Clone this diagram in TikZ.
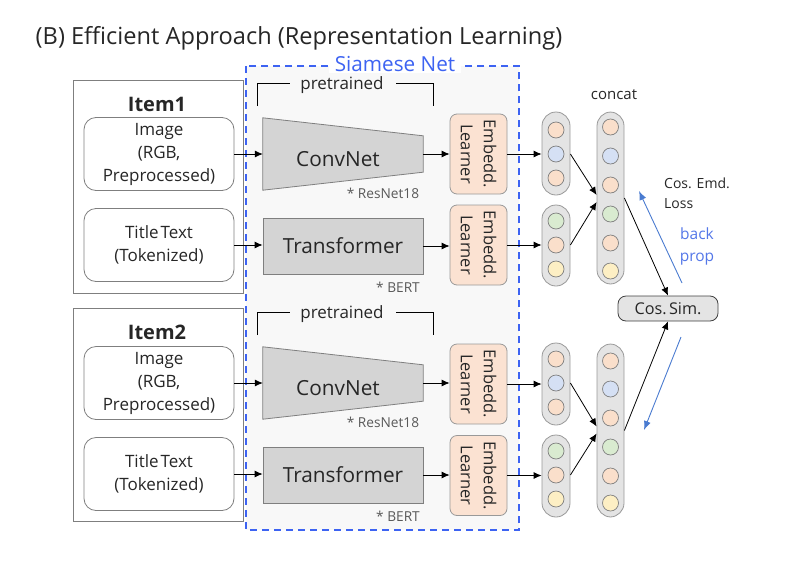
\documentclass[tikz,border=0pt]{standalone}
\usepackage{fontspec}
\setmainfont{Open Sans}
\usetikzlibrary{arrows.meta,calc}
\definecolor{txtc}{HTML}{262626}
\definecolor{boxc}{HTML}{7F7F7F}
\definecolor{sblue}{HTML}{3D63F2}
\definecolor{bpblue}{HTML}{5477E8}
\definecolor{arrblue}{HTML}{4A7BD0}
\definecolor{sbg}{HTML}{F8F8F8}
\definecolor{netfill}{HTML}{D4D4D4}
\definecolor{embfill}{HTML}{FBE2D2}
\definecolor{colfill}{HTML}{E4E4E4}
\definecolor{pch}{HTML}{FADFCB}
\definecolor{blu}{HTML}{D5E0F4}
\definecolor{grn}{HTML}{D9EBD0}
\definecolor{yel}{HTML}{FDEFC4}
\definecolor{smallg}{HTML}{595959}
\begin{document}
\begin{tikzpicture}[x=1pt,y=-1pt,
  txt/.style={text=txtc, inner sep=0pt},
  itembox/.style={draw=boxc, line width=0.8pt, minimum width=170pt, minimum height=213pt},
  inbox/.style={draw=boxc, line width=0.8pt, rounded corners=12pt, minimum width=150pt, minimum height=73pt, align=center, text=txtc, font=\fontsize{17}{23}\selectfont},
  netbox/.style={minimum width=160pt, minimum height=72pt, inner sep=0pt, text=txtc, font=\fontsize{20.8}{24}\selectfont},
  embbox/.style={draw=boxc!80, line width=0.8pt, fill=embfill, rounded corners=7pt, rotate=-90, minimum width=80pt, minimum height=57pt, align=center, text=txtc, font=\fontsize{16.5}{23}\selectfont},
  colbox/.style={draw=boxc!80, line width=0.8pt, fill=colfill, rounded corners=14pt, minimum width=28pt},
  circ/.style={circle, draw=boxc, line width=0.7pt, minimum size=16pt, inner sep=0pt},
  arr/.style={-{Latex[length=8pt,width=7pt]}, line width=0.8pt, draw=black},
  barr/.style={-{Latex[length=9pt,width=7pt]}, line width=0.9pt, draw=arrblue},
  note/.style={text=smallg, inner sep=0pt, font=\fontsize{13.7}{15}\selectfont},
  brk/.style={line width=0.9pt, draw=black}
]
\useasboundingbox (0,0) rectangle (800,560);

% title
\node[txt, anchor=base, font=\fontsize{23.6}{26}\selectfont] (title) at (299,44) {(B) Efficient Approach (Representation Learning)};

% Siamese net frame
\draw[sblue, dash pattern=on 7pt off 5pt, line width=1.5pt, fill=sbg] (246,66) rectangle (519,530);
\node[fill=white, text=sblue, inner xsep=6pt, inner ysep=1pt, font=\fontsize{20.7}{24}\selectfont] (siam) at (395,64) {Siamese Net};

% item boxes
\node[itembox] (item1) at (158,186.5) {};
\node[txt, font=\bfseries\fontsize{20}{24}\selectfont] (item1lab) at (157,104) {Item1};
\node[inbox] (img1) at (159,154) {Image\\(RGB,\\Preprocessed)};
\node[inbox] (ttl1) at (159,245) {Title\hspace{0.12em}Text\\(Tokenized)};

\node[itembox] (item2) at (158,414.5) {};
\node[txt, font=\bfseries\fontsize{20}{24}\selectfont] (item2lab) at (157,332) {Item2};
\node[inbox] (img2) at (159,383) {Image\\(RGB,\\Preprocessed)};
\node[inbox] (ttl2) at (159,474) {Title\hspace{0.12em}Text\\(Tokenized)};

% pretrained brackets
\draw[brk] (257,106) -- (257,83) -- (290,83);
\draw[brk] (396,83) -- (433,83) -- (433,106);
\node[txt, font=\fontsize{17}{20}\selectfont] (pre1) at (342,85) {pretrained};
\draw[brk] (257,335) -- (257,312) -- (290,312);
\draw[brk] (396,312) -- (433,312) -- (433,335);
\node[txt, font=\fontsize{17}{20}\selectfont] (pre2) at (342,314) {pretrained};

% ConvNets
\node[netbox] (conv1) at (343,154) {};
\draw[draw=boxc, line width=0.8pt, fill=netfill] (conv1.north west) -- ($(conv1.north east)+(0,18)$) -- ($(conv1.south east)+(0,-18)$) -- (conv1.south west) -- cycle;
\node[txt, font=\fontsize{20.8}{24}\selectfont] (conv1lab) at (338,159) {ConvNet};
\node[note] (rn1) at (383,193) {* ResNet18};

\node[netbox] (conv2) at (343,383) {};
\draw[draw=boxc, line width=0.8pt, fill=netfill] (conv2.north west) -- ($(conv2.north east)+(0,18)$) -- ($(conv2.south east)+(0,-18)$) -- (conv2.south west) -- cycle;
\node[txt, font=\fontsize{20.8}{24}\selectfont] (conv2lab) at (338,388) {ConvNet};
\node[note] (rn2) at (383,422) {* ResNet18};

% Transformers
\node[netbox, draw=boxc, line width=0.8pt, fill=netfill, minimum height=56pt] (tr1) at (343,246) {Transformer};
\node[note] (bert1) at (398,287) {* BERT};
\node[netbox, draw=boxc, line width=0.8pt, fill=netfill, minimum height=56pt] (tr2) at (343,475) {Transformer};
\node[note] (bert2) at (398,516) {* BERT};

% Embedding learners
\node[embbox] (emb1) at (478.5,154) {Embedd.\\Learner};
\node[embbox] (emb2) at (478.5,245) {Embedd.\\Learner};
\node[embbox] (emb3) at (478.5,384) {Embedd.\\Learner};
\node[embbox] (emb4) at (478.5,475.5) {Embedd.\\Learner};

% arrows into networks
\draw[arr] (img1.east) -- (img1.east -| conv1.west);
\draw[arr] (ttl1.east) -- (ttl1.east -| tr1.west);
\draw[arr] (img2.east) -- (img2.east -| conv2.west);
\draw[arr] (ttl2.east) -- (ttl2.east -| tr2.west);
\draw[arr] (conv1.east) -- (conv1.east -| emb1.south);
\draw[arr] (tr1.east) -- (tr1.east -| emb2.south);
\draw[arr] (conv2.east) -- (conv2.east -| emb3.south);
\draw[arr] (tr2.east) -- (tr2.east -| emb4.south);

% vector columns
\node[colbox, minimum height=83pt] (c1) at (556,153.5) {};
\node[colbox, minimum height=81pt] (c2) at (556,245.5) {};
\node[colbox, minimum height=172pt, minimum width=27pt] (bigT) at (610.5,198) {};
\node[colbox, minimum height=82pt] (c3) at (556,384) {};
\node[colbox, minimum height=82pt] (c4) at (556,476) {};
\node[colbox, minimum height=173pt, minimum width=27pt] (bigB) at (610.5,430.5) {};

\foreach \cy/\cc [count=\i] in {130/pch,154/blu,178/pch} \node[circ, fill=\cc] (c1n\i) at (556,\cy) {};
\foreach \cy/\cc [count=\i] in {221/grn,245/pch,269/yel} \node[circ, fill=\cc] (c2n\i) at (556,\cy) {};
\foreach \cy/\cc [count=\i] in {359/pch,383/blu,407/pch} \node[circ, fill=\cc] (c3n\i) at (556,\cy) {};
\foreach \cy/\cc [count=\i] in {451/grn,475/pch,499/yel} \node[circ, fill=\cc] (c4n\i) at (556,\cy) {};
\foreach \cy/\cc [count=\i] in {127/pch,156/blu,185/pch,214/grn,243/pch,271/yel} \node[circ, fill=\cc] (bTn\i) at (610.5,\cy) {};
\foreach \cy/\cc [count=\i] in {361/pch,389/blu,418/pch,447/grn,476/pch,503/yel} \node[circ, fill=\cc] (bBn\i) at (610.5,\cy) {};

\node[txt, font=\fontsize{15}{18}\selectfont] (concat) at (614,95) {concat};

% arrows to columns
\draw[arr] (emb1.north) -- (emb1.north -| c1.west);
\draw[arr] (emb2.north) -- (emb2.north -| c2.west);
\draw[arr] (emb3.north) -- (emb3.north -| c3.west);
\draw[arr] (emb4.north) -- (emb4.north -| c4.west);

\draw[arr] (c1.east |- c1n2) -- ($(bigT.west)+(0,-3)$);
\draw[arr] (c2.east |- c2n2) -- ($(bigT.west)+(0,4)$);
\draw[arr] (c3.east |- c3n2) -- ($(bigB.west)+(0,-4)$);
\draw[arr] (c4.east |- c4n2) -- ($(bigB.west)+(0,3)$);

% cos sim
\node[draw=black!75, line width=0.8pt, fill=colfill, rounded corners=8pt, minimum width=100pt, minimum height=25pt, inner sep=0pt, text=txtc, font=\fontsize{16.2}{18}\selectfont] (cos) at (668,308.5) {Cos.\hspace{0.15em}Sim.};
\draw[arr] (bigT.east) -- (cos.north);
\draw[arr] (bigB.east) -- (cos.south);

\node[txt, anchor=west, align=left, font=\fontsize{14}{20}\selectfont] (loss) at (664,193) {Cos. Emd.\\Loss};
\node[text=bpblue, inner sep=0pt, align=center, font=\fontsize{15.5}{22}\selectfont] (bp) at (697,246) {back\\prop};

\coordinate (bp1s) at (682,283);
\coordinate (bp1e) at (639,191);
\coordinate (bp2s) at (681,337);
\coordinate (bp2e) at (644,430);
\draw[barr] (bp1s) -- (bp1e);
\draw[barr] (bp2s) -- (bp2e);
\end{tikzpicture}
\end{document}
